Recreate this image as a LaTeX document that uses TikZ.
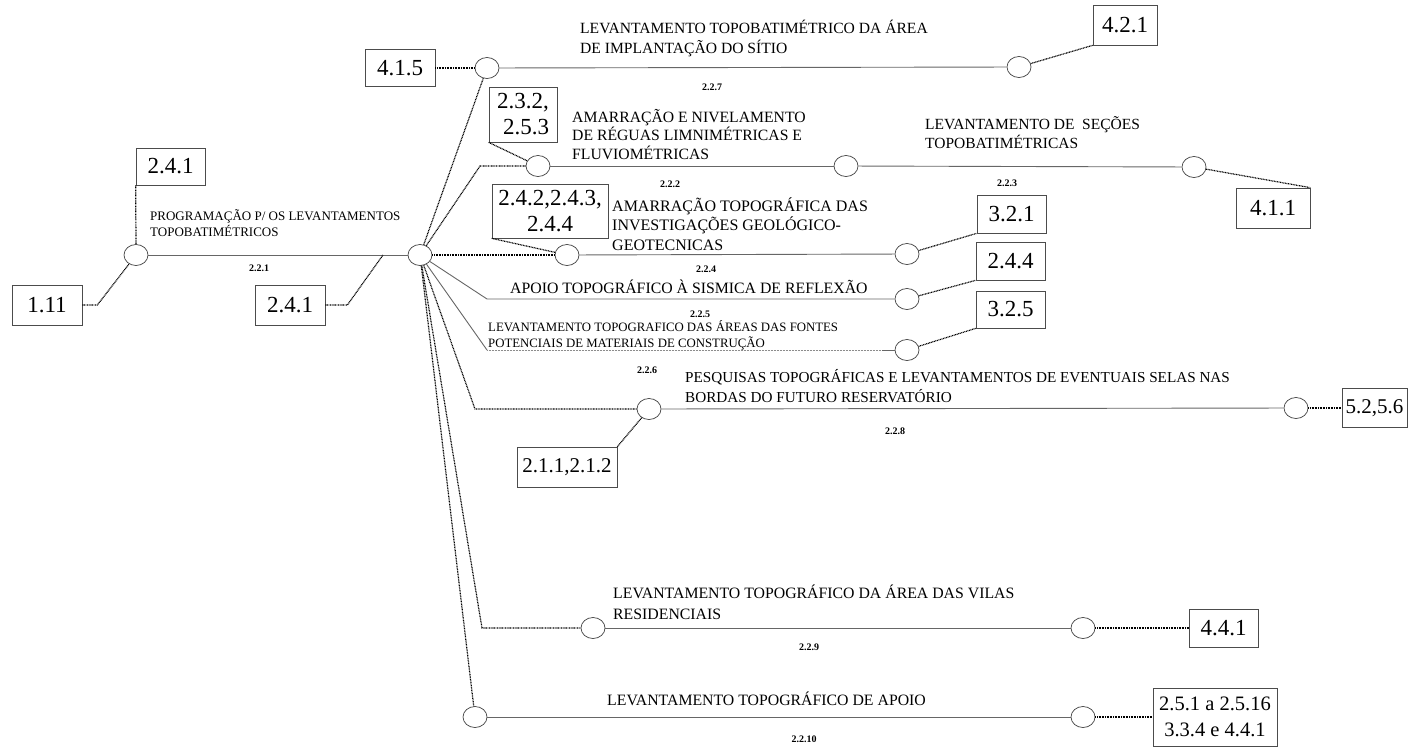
\documentclass[tikz,border=0pt]{standalone}
\usepackage{fontspec}
\setmainfont{Liberation Serif}
\usetikzlibrary{shapes.geometric}

\tikzset{
  evt/.style={ellipse,draw=black!75,line width=.7pt,fill=white,minimum width=24pt,minimum height=21pt,inner sep=0pt},
  ref/.style={draw=black!70,line width=.7pt,fill=white,inner sep=0pt,align=center,font=\fontsize{23}{26}\selectfont},
  act/.style={draw=black!60,line width=.9pt},
  faint/.style={draw=black!45,line width=.6pt,dash pattern=on .6pt off .9pt},
  dep/.style={line width=1.2pt,dash pattern=on .9pt off .7pt},
  lbl/.style={anchor=base west,align=left,inner sep=0pt,font=\fontsize{15.7}{19.5}\selectfont},
  num/.style={inner sep=0pt,font=\fontsize{10}{12}\selectfont\bfseries},
}

\begin{document}
\begin{tikzpicture}[x=1pt,y=-1pt]
\useasboundingbox (0,0) rectangle (1410,750);

% events
\node[evt] (e1) at (136,255) {};
\node[evt] (hub) at (420,255) {};
\node[evt] (e7a) at (487,68) {};
\node[evt] (e7b) at (1019,67) {};
\node[evt] (e2a) at (538,166) {};
\node[evt] (e2b) at (846,166) {};
\node[evt] (e2c) at (1194,167) {};
\node[evt] (e4a) at (567,255) {};
\node[evt] (e4b) at (907,254) {};
\node[evt] (e5) at (907,299) {};
\node[evt] (e6) at (907,350) {};
\node[evt] (e8a) at (649,409) {};
\node[evt] (e8b) at (1296,408) {};
\node[evt] (e9a) at (593,628) {};
\node[evt] (e9b) at (1083,628) {};
\node[evt] (e10a) at (475,717) {};
\node[evt] (e10b) at (1083,717) {};

% reference boxes
\node[ref,minimum width=69pt,minimum height=37pt] (b241a) at (170.5,166.5) {2.4.1};
\node[ref,minimum width=70pt,minimum height=40pt] (b111) at (47,305) {1.11};
\node[ref,minimum width=70pt,minimum height=40pt] (b241b) at (290,305) {2.4.1};
\node[ref,minimum width=70pt,minimum height=37pt] (b415) at (400,68) {4.1.5};
\node[ref,minimum width=68pt,minimum height=55pt,align=left] (b232) at (523,114.5) {2.3.2,\\\hspace*{6pt}2.5.3};
\node[ref,minimum width=116pt,minimum height=54pt] (b242) at (550,211) {2.4.2,2.4.3,\\2.4.4};
\node[ref,minimum width=64pt,minimum height=40pt] (b421) at (1125,25) {4.2.1};
\node[ref,minimum width=74pt,minimum height=40pt] (b411) at (1273,208) {4.1.1};
\node[ref,minimum width=69pt,minimum height=38pt] (b321) at (1011.5,214) {3.2.1};
\node[ref,minimum width=69pt,minimum height=38pt] (b244) at (1010.5,261) {2.4.4};
\node[ref,minimum width=69pt,minimum height=37pt] (b325) at (1010.5,309.5) {3.2.5};
\node[ref,minimum width=65pt,minimum height=39pt,font=\fontsize{21}{24}\selectfont] (b5256) at (1374.5,408) {5.2,5.6};
\node[ref,minimum width=100pt,minimum height=40pt,font=\fontsize{21}{24}\selectfont] (b2112) at (567,467) {2.1.1,2.1.2};
\node[ref,minimum width=69pt,minimum height=38pt] (b441) at (1223.5,628) {4.4.1};
\node[ref,minimum width=124pt,minimum height=58pt,font=\fontsize{20.5}{26}\selectfont] (b2516) at (1215,717) {2.5.1 a 2.5.16\\3.3.4 e 4.4.1};

% bends
\coordinate (c241) at (383,255);
\coordinate (c2) at (480,166);
\coordinate (c5) at (487,299);
\coordinate (c6) at (487,350);
\coordinate (c6b) at (882,350);
\coordinate (c8) at (475,409);
\coordinate (c9) at (482,628);

% activities
\draw[act] (e1) -- (hub);
\draw[act] (e7a) -- (e7b);
\draw[act] (e2a) -- (e2b);
\draw[act] (e2b) -- (e2c);
\draw[act] (e4a) -- (e4b);
\draw[act] (hub) -- (c5) -- (e5);
\draw[act] (hub) -- (c6);
\draw[faint] (c6) -- (c6b);
\draw[act] (c6b) -- (e6);
\draw[act] (e8a) -- (e8b);
\draw[act] (e9a) -- (e9b);
\draw[act] (e10a) -- (e10b);

% dependencies
\draw[dep] (b241a.south west) -- (e1.north);
\draw[dep] (b111.east) -- ++(15,0) -- (e1);
\draw[dep] (b241b.east) -- ++(22,0) -- (c241);
\draw[dep] (b415.east) -- (e7a);
\draw[dep] (hub) -- (e7a);
\draw[dep] (e7b) -- (b421.south west);
\draw[dep] (hub) -- (c2) -- (e2a);
\draw[dep] (b232.south west) -- (e2a);
\draw[dep] (e2c) -- (b411.north east);
\draw[dep] (hub) -- (e4a);
\draw[dep] (b242.south west) -- (e4a);
\draw[dep] (e4b) -- (b321.south west);
\draw[dep] (e5) -- (b244.south west);
\draw[dep] (e6) -- (b325.south west);
\draw[dep] (hub) -- (c8) -- (e8a);
\draw[dep] (b2112.north east) -- (e8a);
\draw[dep] (e8b) -- (b5256);
\draw[dep] (hub) -- (c9) -- (e9a);
\draw[dep] (e9b) -- (b441);
\draw[dep] (hub) -- (e10a);
\draw[dep] (e10b) -- (b2516);

% activity texts (anchored on the baseline of the last line)
\node[lbl,font=\fontsize{13}{16}\selectfont] (t221) at (150,236) {PROGRAMAÇÃO P/ OS LEVANTAMENTOS\\TOPOBATIMÉTRICOS};
\node[lbl,font=\fontsize{15.6}{20}\selectfont] (t227) at (580,53) {LEVANTAMENTO TOPOBATIMÉTRICO DA ÁREA\\DE IMPLANTAÇÃO DO SÍTIO};
\node[lbl,font=\fontsize{15.7}{18.5}\selectfont] (t222) at (572,159) {AMARRAÇÃO E NIVELAMENTO\\DE RÉGUAS LIMNIMÉTRICAS E\\FLUVIOMÉTRICAS};
\node[lbl,font=\fontsize{15.5}{19}\selectfont] (t223) at (925,148) {LEVANTAMENTO DE \ SEÇÕES\\TOPOBATIMÉTRICAS};
\node[lbl,font=\fontsize{16}{19.5}\selectfont] (t224) at (612,250) {AMARRAÇÃO TOPOGRÁFICA DAS\\INVESTIGAÇÕES GEOLÓGICO-\\GEOTECNICAS};
\node[lbl,font=\fontsize{15.8}{19}\selectfont] (t225) at (510,293) {APOIO TOPOGRÁFICO À SISMICA DE REFLEXÃO};
\node[lbl,font=\fontsize{12.8}{16}\selectfont] (t226) at (488,347) {LEVANTAMENTO TOPOGRAFICO DAS ÁREAS DAS FONTES\\POTENCIAIS DE MATERIAIS DE CONSTRUÇÃO};
\node[lbl,font=\fontsize{15.2}{20}\selectfont] (t228) at (685,402) {PESQUISAS TOPOGRÁFICAS E LEVANTAMENTOS DE EVENTUAIS SELAS NAS\\BORDAS DO FUTURO RESERVATÓRIO};
\node[lbl,font=\fontsize{15.8}{21}\selectfont] (t229) at (613,619) {LEVANTAMENTO TOPOGRÁFICO DA ÁREA DAS VILAS\\RESIDENCIAIS};
\node[lbl,font=\fontsize{15.8}{19}\selectfont] (t2210) at (607,705) {LEVANTAMENTO TOPOGRÁFICO DE APOIO};

% activity numbers
\node[num] (n221) at (259,268) {2.2.1};
\node[num] (n227) at (712,87) {2.2.7};
\node[num] (n222) at (670,184) {2.2.2};
\node[num] (n223) at (1007,183) {2.2.3};
\node[num] (n224) at (706,269) {2.2.4};
\node[num] (n225) at (700,314) {2.2.5};
\node[num] (n226) at (647,370) {2.2.6};
\node[num] (n228) at (895,431) {2.2.8};
\node[num] (n229) at (809,647) {2.2.9};
\node[num] (n2210) at (804,739) {2.2.10};
\end{tikzpicture}
\end{document}
